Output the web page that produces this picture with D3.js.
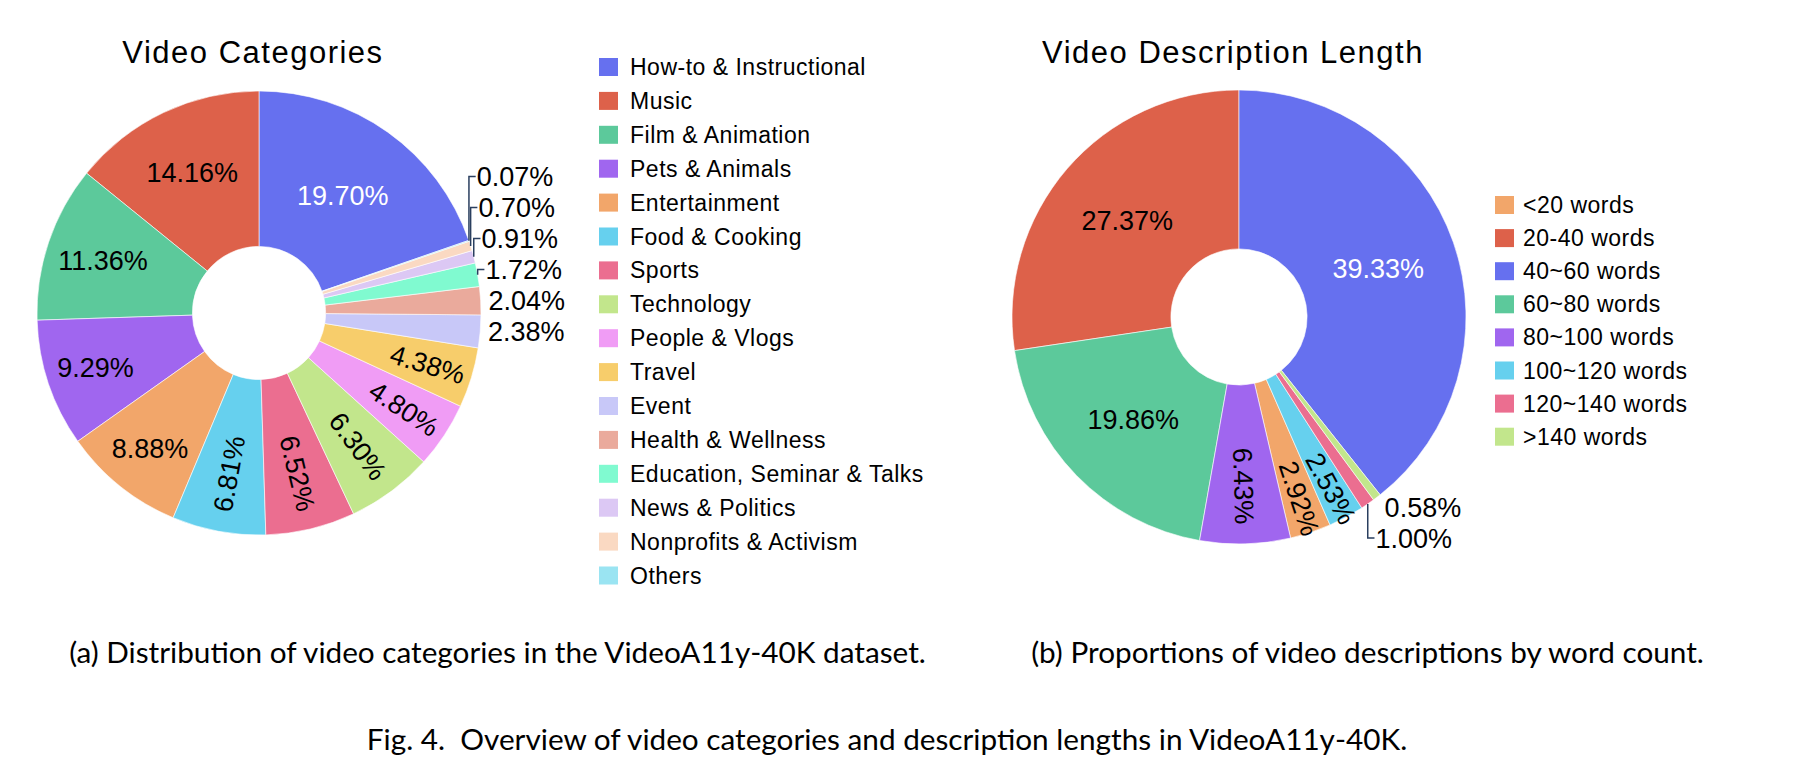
<!DOCTYPE html>
<html>
<head>
<meta charset="utf-8">
<script src="https://cdn.jsdelivr.net/npm/d3@7"></script>
<style>
  body{margin:0;background:#fff;}
</style>
</head>
<body>
<svg id="fig" width="1808" height="780"></svg>
<script>
// ---------------- data ----------------
var catNames=["How-to & Instructional","Music","Film & Animation","Pets & Animals","Entertainment",
  "Food & Cooking","Sports","Technology","People & Vlogs","Travel","Event","Health & Wellness",
  "Education, Seminar & Talks","News & Politics","Nonprofits & Activism","Others"];
var catValues=[19.70,14.16,11.36,9.29,8.88,6.81,6.52,6.30,4.80,4.38,2.38,2.04,1.72,0.91,0.70,0.07];
var catColors=["#6670EF","#DD614A","#5CC99B","#A066EF","#F2A66A","#66D0EE","#EB6E90","#C2E68C",
  "#F09CF5","#F7CD6B","#C8C8F8","#EAAA9C","#80FAD0","#DCC8F4","#FAD9C2","#9AE4F2"];

var lenNames=["<20 words","20-40 words","40~60 words","60~80 words","80~100 words",
  "100~120 words","120~140 words",">140 words"];
var lenValues=[2.92,27.37,39.33,19.86,6.43,2.53,1.00,0.58];
var lenColors=["#F2A66A","#DD614A","#6670EF","#5CC99B","#A066EF","#66D0EE","#EB6E90","#C2E68C"];

var captionA="(a) Distribution of video categories in the VideoA11y-40K dataset.";
var captionB="(b) Proportions of video descriptions by word count.";
var captionFig="Fig. 4.  Overview of video categories and description lengths in VideoA11y-40K.";

// ---------------- setup ----------------
var svg=d3.select('#fig');
var sans='"Liberation Sans", Arial, Helvetica, sans-serif';
var labelFont=27, labelH=31;

var meas=svg.append('text').attr('font-family',sans).attr('font-size',labelFont).attr('visibility','hidden');
function textW(s){ meas.text(s); return meas.node().getComputedTextLength(); }

function inkFor(c){
  var r=d3.rgb(c);
  return (r.r*299+r.g*587+r.b*114)/1000<128 ? '#fff' : '#000';
}

function drawPie(p){
  var total=d3.sum(p.values);
  var rows=p.names.map(function(n,i){ return {name:n, value:p.values[i], color:p.colors[i]}; });

  // sorted descending, laid out counterclockwise; biggest slice ends at 12 o'clock
  var a0=d3.max(p.values)/total*2*Math.PI;
  var pie=d3.pie().value(function(d){return d.value;})
    .sort(function(a,b){return b.value-a.value;})
    .startAngle(a0).endAngle(a0-2*Math.PI);
  var arcs=pie(rows);
  var arc=d3.arc().innerRadius(p.R*p.hole).outerRadius(p.R);

  var g=svg.append('g').attr('transform','translate('+p.cx+','+p.cy+')');
  g.selectAll('path.slice').data(arcs).enter().append('path')
    .attr('class','slice')
    .attr('d',arc)
    .attr('fill',function(d){return d.data.color;})
    .attr('stroke','#fff').attr('stroke-width',0.6);

  var ring=1-p.hole;
  var inside=[], outs=[];

  arcs.forEach(function(d){
    var m=(d.startAngle+d.endAngle)/2;
    var half=Math.abs(d.endAngle-d.startAngle)/2;
    var txt=d.data.value.toFixed(2)+'%';
    var w=textW(txt), h=labelH;
    var px=p.R*Math.sin(m), py=-p.R*Math.cos(m);

    // horizontal text if it fits
    var rIns=Math.min(1/(1+1/Math.sin(half)), ring/2);
    if (rIns*p.R*2/Math.hypot(w,h)>=1){
      inside.push({txt:txt, x:px*(1-rIns), y:py*(1-rIns), rot:0, fill:inkFor(d.data.color)});
      return;
    }
    // radial text
    var rr=p.R-6, a=w/h, q=a+1/(2*Math.tan(half));
    var s=rr*Math.min(1/(Math.sqrt(q*q+0.5)+q), ring/(Math.sqrt(a*a+ring/2)+a));
    if (2*s/h>=0.8){
      var rc=Math.cos(s/rr)-a*s/rr;
      var rot=(m*180/Math.PI+720)%180-90;
      inside.push({txt:txt, x:px*rc, y:py*rc, rot:rot, fill:inkFor(d.data.color)});
      return;
    }
    // outside
    var dx=(px<0?-1:1)*w/2, dy=(py<0?-1:1)*h/2;
    outs.push({txt:txt, px:px, py:py, w:w,
      x:px+dx+(dx>0?1:-1)*Math.abs(dy)/2,
      y:py+dy/(1+px*px/(py*py))});
  });

  // push overlapping outside labels away from the equator
  [-1,1].forEach(function(side){
    [-1,1].forEach(function(hf){
      var grp=outs.filter(function(o){return Math.sign(o.px)===side && Math.sign(o.py)===hf;})
        .sort(function(a,b){return hf<0 ? b.y-a.y : a.y-b.y;});
      grp.forEach(function(o,i){
        o.y0=o.y;
        if(i>0){
          var prev=grp[i-1];
          o.y = hf<0 ? Math.min(o.y, prev.y-labelH) : Math.max(o.y, prev.y+labelH);
        }
      });
    });
  });

  g.selectAll('text.in').data(inside).enter().append('text')
    .attr('class','in')
    .attr('transform',function(d){return 'translate('+d.x+','+d.y+') rotate('+d.rot+')';})
    .attr('text-anchor','middle').attr('dy','0.35em')
    .attr('font-family',sans).attr('font-size',labelFont)
    .attr('fill',function(d){return d.fill;})
    .text(function(d){return d.txt;});

  g.selectAll('path.lead').data(outs.filter(function(o){return Math.abs(o.y-o.y0)>0.5;}))
    .enter().append('path')
    .attr('class','lead')
    .attr('d',function(o){
      var side=o.px<0?-1:1;
      return 'M'+o.px+','+o.py+'V'+o.y+'H'+(o.x-side*(o.w/2+1));
    })
    .attr('fill','none').attr('stroke','#2a3f5f').attr('stroke-width',1.5);

  g.selectAll('text.out').data(outs).enter().append('text')
    .attr('class','out')
    .attr('x',function(o){return o.x;}).attr('y',function(o){return o.y;})
    .attr('text-anchor','middle').attr('dy','0.35em')
    .attr('font-family',sans).attr('font-size',labelFont).attr('fill','#000')
    .text(function(o){return o.txt;});

  // title
  svg.append('text')
    .attr('x',p.titleX).attr('y',63)
    .attr('text-anchor','middle')
    .attr('font-family',sans).attr('font-size',31).attr('letter-spacing',1.5)
    .attr('fill','#000')
    .text(p.title);

  // legend (data order)
  var lg=svg.append('g');
  lg.selectAll('rect').data(rows).enter().append('rect')
    .attr('x',p.legX).attr('y',function(d,i){return p.legY+i*p.legStep-9;})
    .attr('width',19).attr('height',18)
    .attr('fill',function(d){return d.color;});
  lg.selectAll('text').data(rows).enter().append('text')
    .attr('x',p.legX+p.legGap).attr('y',function(d,i){return p.legY+i*p.legStep;})
    .attr('dy','0.35em')
    .attr('font-family',sans).attr('font-size',23).attr('letter-spacing',0.5)
    .attr('fill','#000')
    .text(function(d){return d.name;});
}

drawPie({names:catNames, values:catValues, colors:catColors,
  cx:259, cy:313, R:222, hole:0.3, title:"Video Categories", titleX:253,
  legX:599, legY:67, legStep:33.9, legGap:31});

drawPie({names:lenNames, values:lenValues, colors:lenColors,
  cx:1239, cy:317, R:227, hole:0.3, title:"Video Description Length", titleX:1233,
  legX:1495, legY:205, legStep:33.1, legGap:28});

// ---------------- captions ----------------
var capFamily='Lato, "Open Sans", sans-serif';
var probe=svg.append('text').attr('font-family',capFamily).attr('font-size',28).text(captionA);
var capSize=28*857/probe.node().getComputedTextLength();
probe.remove();

function caption(txt,x,y){
  svg.append('text').attr('x',x).attr('y',y)
    .attr('text-anchor','middle')
    .attr('font-family',capFamily).attr('font-size',capSize)
    .attr('fill','#000').attr('xml:space','preserve')
    .style('white-space','pre')
    .text(txt);
}
caption(captionA,497.5,663);
caption(captionB,1367.5,663);
caption(captionFig,887,750);

meas.remove();
</script>
</body>
</html>
